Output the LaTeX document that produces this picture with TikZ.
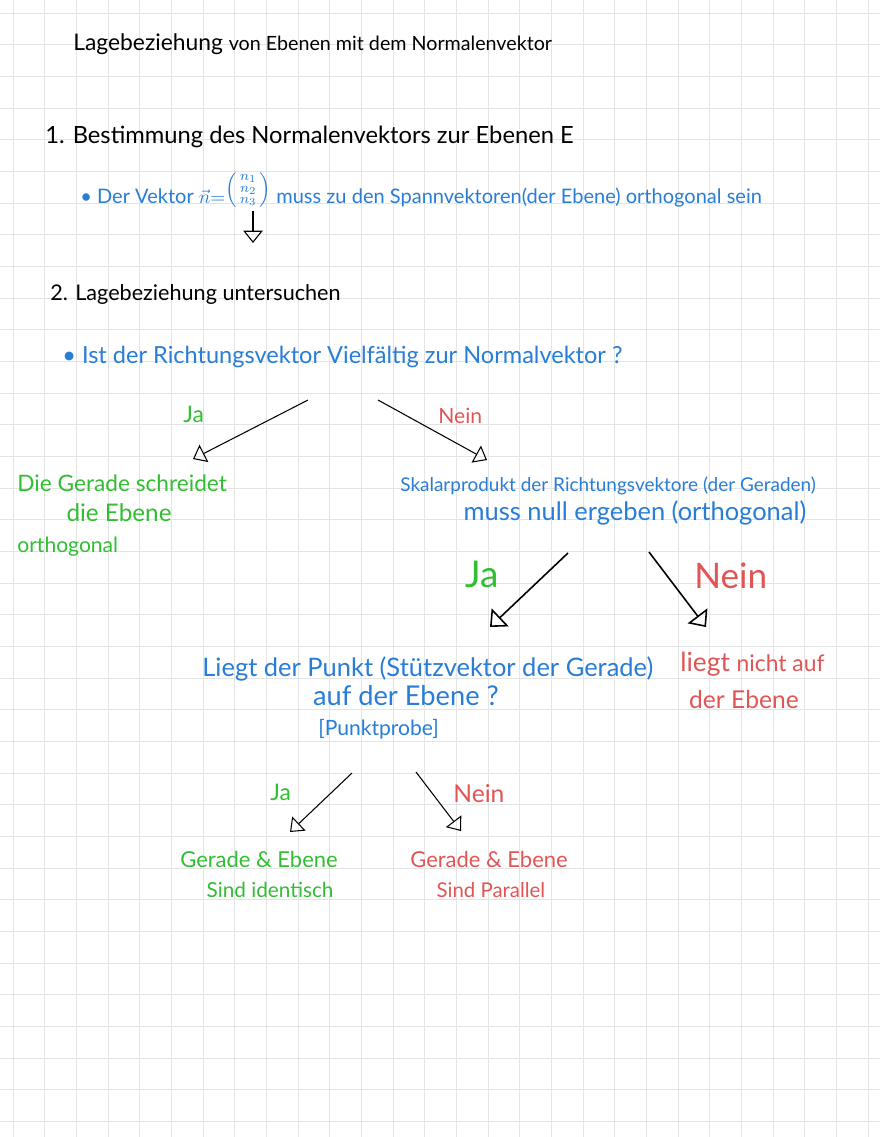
\documentclass[tikz,border=0pt]{standalone}
\usepackage{amsmath}
\usepackage{fontspec}
\setmainfont{Lato}
\usetikzlibrary{arrows.meta}
\definecolor{stiftblau}{RGB}{40,125,215}
\definecolor{stiftgruen}{RGB}{50,190,50}
\definecolor{stiftrot}{RGB}{225,85,85}
\definecolor{gitter}{RGB}{228,228,228}
\newcommand{\schrift}[2]{\fontsize{#1}{#2}\selectfont}
\begin{document}
\begin{tikzpicture}[x=0.02cm,y=-0.02cm,
	gitterlinie/.style={draw=gitter,line width=0.55pt},
	pfeil/.style={-{Triangle[open,length=7pt,width=11pt]},line width=0.6pt},
	grosspfeil/.style={-{Triangle[open,length=8pt,width=14pt]},line width=0.9pt},
	schwarz/.style={inner sep=0pt,anchor=base west,text=black},
	blau/.style={inner sep=0pt,text=stiftblau},
	gruen/.style={inner sep=0pt,text=stiftgruen},
	rot/.style={inner sep=0pt,text=stiftrot},
	block/.style={anchor=north west,align=left}]
	\fill[white] (0,0) rectangle (880,1137);
	\useasboundingbox (0,0) rectangle (880,1137);
	\foreach \i in {0,...,27} \draw[gitterlinie] (13+31.67*\i,0) -- (13+31.67*\i,1137);
	\foreach \j in {0,...,35} \draw[gitterlinie] (0,13+31.67*\j) -- (880,13+31.67*\j);
	\node[schwarz] (titel) at (73,50) {\schrift{13}{16}Lagebeziehung \schrift{11.2}{13}von Ebenen mit dem Normalenvektor};
	\node[schwarz] (schritt1) at (45,143) {\schrift{13.5}{16}1. Bestimmung des Normalenvektors zur Ebenen E};
	\node[blau,anchor=base west] (vektor) at (80,203) {\schrift{11.4}{14}• Der Vektor $\vec{n}{=}\raisebox{4.5pt}{$\left(\begin{smallmatrix}n_1\\ n_2\\ n_3\end{smallmatrix}\right)$}$ muss zu den Spannvektoren(der Ebene) orthogonal sein};
	\node[schwarz] (schritt2) at (50,300) {\schrift{12.3}{15}2. Lagebeziehung untersuchen};
	\node[blau,anchor=base west] (frage) at (62,363) {\schrift{13.4}{15}• Ist der Richtungsvektor Vielfältig zur Normalvektor ?};
	\node[gruen,anchor=base west] (ja1) at (183,422) {\schrift{13}{15}Ja};
	\node[rot,anchor=base west] (nein1) at (438,423) {\schrift{12}{14}Nein};
	\node[gruen,block,font=\schrift{12.9}{17.5}] (schneidet) at (17,474) {Die Gerade schreidet\\\hspace*{28pt}\schrift{13.8}{17.5}die Ebene\\\schrift{12}{17.5}orthogonal};
	\node[blau,block,font=\schrift{10.8}{17}] (skalar) at (400,476) {Skalarprodukt der Richtungsvektore (der Geraden)\\\hspace*{36pt}\schrift{14.5}{17}muss null ergeben (orthogonal)};
	\node[gruen,anchor=base west] (ja2) at (465,587) {\schrift{21}{24}Ja};
	\node[rot,anchor=base west] (nein2) at (694,588) {\schrift{20}{23}Nein};
	\node[blau,block,font=\schrift{14.5}{17}] (punkt) at (202,656) {Liegt der Punkt (Stützvektor der Gerade)\\\hspace*{63pt}\schrift{15.5}{17}auf der Ebene ?\\\hspace*{66pt}\schrift{12}{17}[Punktprobe]};
	\node[rot,block,font=\schrift{11}{21}] (nichtauf) at (680,652) {\schrift{15}{21}liegt \schrift{13}{21}nicht auf\\\hspace*{5pt}\schrift{14}{21}der Ebene};
	\node[gruen,anchor=base west] (ja3) at (270,800) {\schrift{13}{15}Ja};
	\node[rot,anchor=base west] (nein3) at (453,802) {\schrift{14}{16}Nein};
	\node[gruen,block,font=\schrift{12.5}{17}] (identisch) at (180,851) {Gerade \& Ebene\\\hspace*{15pt}\schrift{11.8}{17}Sind identisch};
	\node[rot,block,font=\schrift{12.5}{17}] (parallel) at (410,851) {Gerade \& Ebene\\\hspace*{15pt}\schrift{11.6}{17}Sind Parallel};
	\coordinate (v1) at (253,211);
	\coordinate (v2) at (253,243);
	\coordinate (a1) at (308,400);
	\coordinate (e1) at (193,459);
	\coordinate (a2) at (378,400);
	\coordinate (e2) at (487,460);
	\coordinate (a3) at (568,553);
	\coordinate (e3) at (490,627);
	\coordinate (a4) at (649,552);
	\coordinate (e4) at (706,627);
	\coordinate (a5) at (352,773);
	\coordinate (e5) at (290,832);
	\coordinate (a6) at (416,772);
	\coordinate (e6) at (461,831);
	\draw[pfeil] (v1) -- (v2);
	\draw[pfeil] (a1) -- (e1);
	\draw[pfeil] (a2) -- (e2);
	\draw[grosspfeil] (a3) -- (e3);
	\draw[grosspfeil] (a4) -- (e4);
	\draw[pfeil] (a5) -- (e5);
	\draw[pfeil] (a6) -- (e6);
\end{tikzpicture}
\end{document}
